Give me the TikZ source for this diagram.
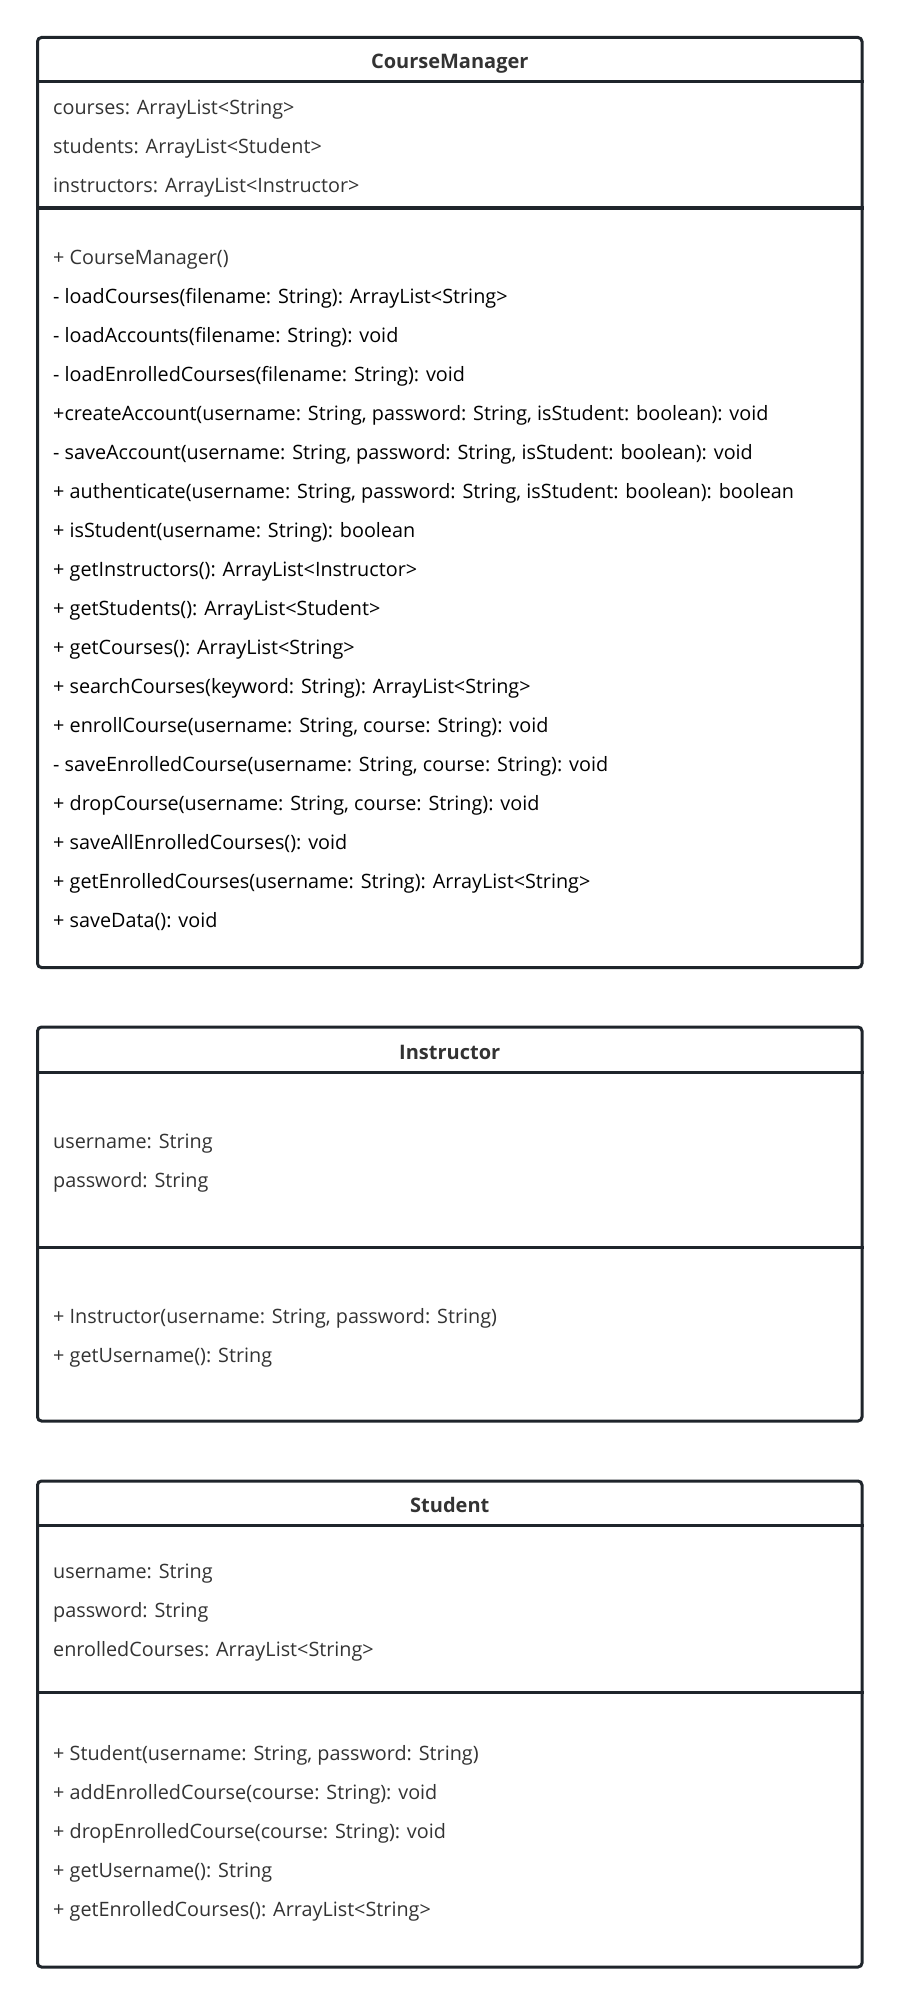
\documentclass[tikz,border=0pt]{standalone}
\usepackage{fontspec}
\setmainfont{Open Sans}
\definecolor{umlLine}{HTML}{1F252B}
\definecolor{umlText}{HTML}{333333}
\begin{document}
\begin{tikzpicture}[x=1pt, y=-1pt, classStyle/.style={rectangle, draw=umlLine, line width=3pt, rounded corners=4pt, inner sep=0pt, minimum width=824.5pt}, titleStyle/.style={font=\bfseries\fontsize{20}{24}\selectfont, text=umlText, inner sep=0pt, text height=14.5pt, text depth=0pt}, memberStyle/.style={anchor=west, font=\fontsize{19.8}{24}\selectfont, text=umlText, inner sep=0pt, text height=14.5pt, text depth=0pt}, opStyle/.style={memberStyle, text=black}, sepStyle/.style={draw=umlLine, line width=3pt}]
                    \useasboundingbox (0,0) rectangle (899,2004);

                    % CourseManager
                    \node[classStyle, minimum height=930pt] (cm) at (449.75, 502.5) {};
                    \node[titleStyle] (cm_title) at (449.75, 61) {CourseManager};
                    \draw[sepStyle] (cm.west |- 0,82) -- (cm.east |- 0,82);
                    \node[memberStyle] (cm_a0) at (53, 107) {courses: ArrayList<String>};
                    \node[memberStyle] (cm_a1) at (53, 146) {students: ArrayList<Student>};
                    \node[memberStyle] (cm_a2) at (53, 185) {instructors: ArrayList<Instructor>};
                    \draw[sepStyle] (cm.west |- 0,208) -- (cm.east |- 0,208);
                    \node[memberStyle] (cm_m0)  at (53, 257) {+ CourseManager()};
                    \node[opStyle]     (cm_m1)  at (53, 296) {- loadCourses(filename: String): ArrayList<String>};
                    \node[opStyle]     (cm_m2)  at (53, 335) {- loadAccounts(filename: String): void};
                    \node[opStyle]     (cm_m3)  at (53, 374) {- loadEnrolledCourses(filename: String): void};
                    \node[opStyle]     (cm_m4)  at (53, 413) {+createAccount(username: String, password: String, isStudent: boolean): void};
                    \node[opStyle]     (cm_m5)  at (53, 452) {- saveAccount(username: String, password: String, isStudent: boolean): void};
                    \node[opStyle]     (cm_m6)  at (53, 491) {+ authenticate(username: String, password: String, isStudent: boolean): boolean};
                    \node[opStyle]     (cm_m7)  at (53, 530) {+ isStudent(username: String): boolean};
                    \node[opStyle]     (cm_m8)  at (53, 569) {+ getInstructors(): ArrayList<Instructor>};
                    \node[opStyle]     (cm_m9)  at (53, 608) {+ getStudents(): ArrayList<Student>};
                    \node[opStyle]     (cm_m10) at (53, 647) {+ getCourses(): ArrayList<String>};
                    \node[opStyle]     (cm_m11) at (53, 686) {+ searchCourses(keyword: String): ArrayList<String>};
                    \node[opStyle]     (cm_m12) at (53, 725) {+ enrollCourse(username: String, course: String): void};
                    \node[opStyle]     (cm_m13) at (53, 764) {- saveEnrolledCourse(username: String, course: String): void};
                    \node[opStyle]     (cm_m14) at (53, 803) {+ dropCourse(username: String, course: String): void};
                    \node[opStyle]     (cm_m15) at (53, 842) {+ saveAllEnrolledCourses(): void};
                    \node[opStyle]     (cm_m16) at (53, 881) {+ getEnrolledCourses(username: String): ArrayList<String>};
                    \node[opStyle]     (cm_m17) at (53, 920) {+ saveData(): void};

                    % Instructor
                    \node[classStyle, minimum height=394pt] (ins) at (449.75, 1224) {};
                    \node[titleStyle] (ins_title) at (449.75, 1052) {Instructor};
                    \draw[sepStyle] (ins.west |- 0,1072) -- (ins.east |- 0,1072);
                    \node[memberStyle] (ins_a0) at (53, 1141) {username: String};
                    \node[memberStyle] (ins_a1) at (53, 1180) {password: String};
                    \draw[sepStyle] (ins.west |- 0,1247) -- (ins.east |- 0,1247);
                    \node[memberStyle] (ins_m0) at (53, 1316) {+ Instructor(username: String, password: String)};
                    \node[memberStyle] (ins_m1) at (53, 1355) {+ getUsername(): String};

                    % Student
                    \node[classStyle, minimum height=486pt] (stu) at (449.75, 1724) {};
                    \node[titleStyle] (stu_title) at (449.75, 1505) {Student};
                    \draw[sepStyle] (stu.west |- 0,1525) -- (stu.east |- 0,1525);
                    \node[memberStyle] (stu_a0) at (53, 1571) {username: String};
                    \node[memberStyle] (stu_a1) at (53, 1610) {password: String};
                    \node[memberStyle] (stu_a2) at (53, 1649) {enrolledCourses: ArrayList<String>};
                    \draw[sepStyle] (stu.west |- 0,1692) -- (stu.east |- 0,1692);
                    \node[memberStyle] (stu_m0) at (53, 1753) {+ Student(username: String, password: String)};
                    \node[memberStyle] (stu_m1) at (53, 1792) {+ addEnrolledCourse(course: String): void};
                    \node[memberStyle] (stu_m2) at (53, 1831) {+ dropEnrolledCourse(course: String): void};
                    \node[memberStyle] (stu_m3) at (53, 1870) {+ getUsername(): String};
                    \node[memberStyle] (stu_m4) at (53, 1909) {+ getEnrolledCourses(): ArrayList<String>};
                \end{tikzpicture}
\end{document}
